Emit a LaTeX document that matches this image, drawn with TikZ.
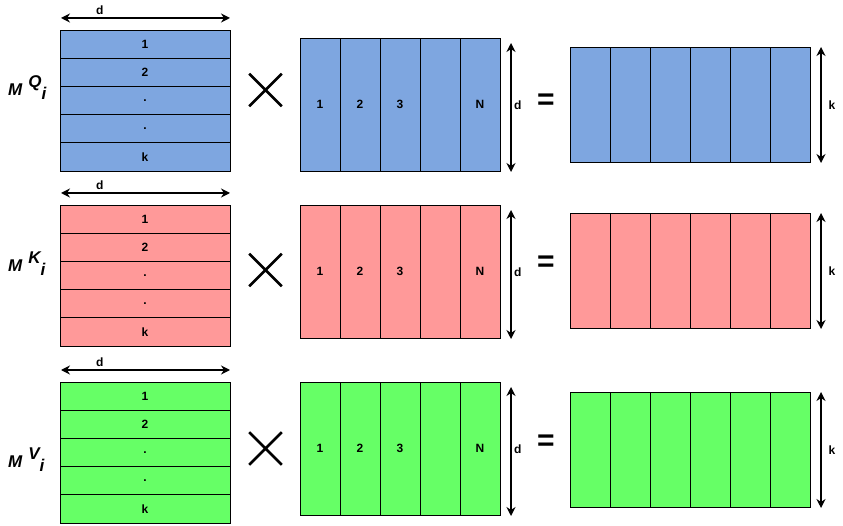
\documentclass[tikz,border=0pt]{standalone}
\usepackage{fontspec}
\setmainfont{Liberation Sans}
\usetikzlibrary{arrows.meta,shapes.misc}
\definecolor{qblue}{HTML}{7EA6E0}
\definecolor{kred}{HTML}{FF9999}
\definecolor{vgreen}{HTML}{66FF66}

\begin{document}
\begin{tikzpicture}[
    x=1pt, y=-1pt,
    cell/.style={draw=black, line width=0.8pt, inner sep=0pt, outer sep=0pt, font=\fontsize{12}{14}\selectfont\bfseries},
    dimarrow/.style={{Stealth[length=9pt,width=9pt,inset=3pt]}-{Stealth[length=9pt,width=9pt,inset=3pt]}, line width=1.4pt},
    dimlabel/.style={font=\fontsize{12}{14}\selectfont\bfseries, inner sep=1pt},
    times/.style={cross out, draw=black, line width=2.6pt, minimum size=30pt, inner sep=0pt},
    equals/.style={font=\fontsize{30}{30}\selectfont\bfseries, inner sep=0pt},
    mlabel/.style={font=\fontsize{17}{17}\selectfont\bfseries\itshape, inner sep=0pt, anchor=base west}
  ]
  \useasboundingbox (0,0) rectangle (843,526);
  % name/colour/top of left, middle, right block/y of times/y of equals/baseline of M
  \foreach \r/\clr/\lt/\mt/\rt/\xy/\ey/\my in {Q/qblue/30/38/47/90/101.5/96, K/kred/205/205/213/270/264/272, V/vgreen/382/382/392/448.5/443/467}{
    % left block: k rows of width d
    \foreach \i/\txt in {1/1,2/2,3/.,4/.,5/k}
      \node[cell, fill=\clr, minimum width=170pt, minimum height=28.2pt] (L\r\i) at (145, {\lt+28.2*\i-14.1}) {\txt};
    % middle block: N columns of height d
    \foreach \i/\txt in {1/1,2/2,3/3,4/{},5/N}
      \node[cell, fill=\clr, minimum width=40pt, minimum height=133pt] (C\r\i) at ({280+40*\i}, {\mt+66.5}) {\txt};
    % right block
    \foreach \i in {1,...,6}
      \node[cell, fill=\clr, minimum width=40pt, minimum height=115pt] (R\r\i) at ({550+40*\i}, {\rt+57.5}) {};

    \node[mlabel] (M\r) at (8, \my) {M\hspace{6pt}\raisebox{8pt}{\r}\raisebox{-4pt}{i}};
    \node[times] (X\r) at (265.5, \xy) {};
    \node[equals] (E\r) at (546, \ey) {=};

    % dimensions
    \draw[dimarrow] ([xshift=1pt, yshift=12pt]L\r1.north west) -- ([yshift=12pt]L\r1.north east)
      node[dimlabel, pos=0.23, above=2pt] {d};
    \draw[dimarrow] ([xshift=11pt, yshift=-5pt]C\r5.north east) -- ([xshift=11pt, yshift=-1pt]C\r5.south east)
      node[dimlabel, midway, right=1.5pt, yshift=2pt] {d};
    \draw[dimarrow] ([xshift=11pt]R\r6.north east) -- ([xshift=11pt, yshift=-1pt]R\r6.south east)
      node[dimlabel, midway, right=6pt] {k};
  }
\end{tikzpicture}
\end{document}
